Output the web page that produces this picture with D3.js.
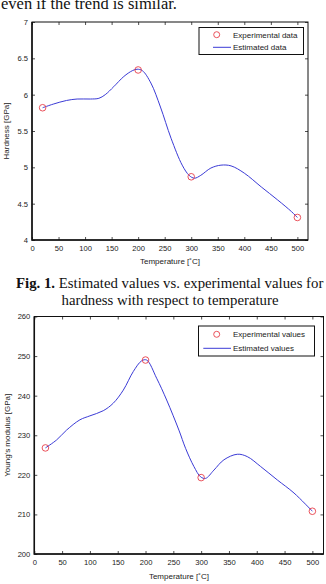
<!DOCTYPE html>
<html><head><meta charset="utf-8">
<script src="https://cdn.jsdelivr.net/npm/d3@7"></script>
<style>
body{margin:0;background:#fff;}
svg{display:block;}
.tk text{font-family:"Liberation Sans",Arial,sans-serif;font-size:7.6px;fill:#222;}
</style></head><body>
<svg id="c" width="326" height="584"></svg>
<script>
// ---- data ----
const xTicks = [0,50,100,150,200,250,300,350,400,450,500];
// Chart 1: hardness
const hardTicks = [4,4.5,5,5.5,6,6.5,7];
const hardExpT = [20,200,300,500];
const hardExpV = [5.82,6.34,4.87,4.31];
const hardEstT = [20,40,65,85,110,126,138,154,173,189,198,208,224,242,262,283,296,306,318,337,356,375,400,432,463,489,500];
const hardEstV = [5.82,5.87,5.92,5.94,5.94,5.95,6.0,6.11,6.25,6.33,6.35,6.33,6.16,5.83,5.40,5.03,4.89,4.85,4.89,4.99,5.03,5.02,4.92,4.73,4.55,4.39,4.31];
// Chart 2: Young's modulus
const ymTicks = [200,210,220,230,240,250,260];
const ymExpT = [20,200,300,500];
const ymExpV = [226.8,249.0,219.3,210.8];
const ymEstT = [20,40,58,82,100,124,142,160,178,193,202,220,238,260,272,287,299,308,323,341,365,383,407,437,467,500];
const ymEstV = [226.8,228.8,231.3,233.9,234.9,236.2,238.1,241.4,246.1,248.8,249.0,244.4,238.9,231.3,226.7,222.1,219.5,219.1,221.2,223.8,225.2,224.6,222.1,218.7,215.4,210.8];

const svg = d3.select("#c");
const sans = '"Liberation Sans",Arial,sans-serif';
const serif = '"Liberation Serif","Times New Roman",serif';

// surrounding text
svg.append("text").attr("x",1).attr("y",9).attr("font-family",serif).attr("font-size",16.5)
  .attr("fill","#111").text("even if the trend is similar.");
const cap = svg.append("text").attr("x",16).attr("y",288).attr("font-family",serif).attr("font-size",14.8).attr("fill","#111");
cap.append("tspan").attr("font-weight","bold").text("Fig. 1.");
cap.append("tspan").text(" Estimated values vs. experimental values for");
svg.append("text").attr("x",170).attr("y",305).attr("text-anchor","middle").attr("font-family",serif)
  .attr("font-size",14.8).attr("fill","#111").text("hardness with respect to temperature");

function chart(o){
  const x = d3.scaleLinear().domain([0,520]).range([o.x0,o.x1]);
  const y = d3.scaleLinear().domain([o.yTicks[0],o.yTicks[o.yTicks.length-1]]).range([o.y0,o.y1]);
  const g = svg.append("g");
  const tl = 3;
  // axes (ticks inward on all sides)
  g.append("g").attr("class","tk").attr("transform",`translate(0,${o.y0})`)
    .call(d3.axisBottom(x).tickValues(xTicks).tickSize(-tl).tickPadding(6).tickFormat(d3.format("d")));
  g.append("g").attr("transform",`translate(0,${o.y1})`)
    .call(d3.axisTop(x).tickValues(xTicks).tickSize(-tl).tickFormat(""));
  g.append("g").attr("class","tk").attr("transform",`translate(${o.x0},0)`)
    .call(d3.axisLeft(y).tickValues(o.yTicks).tickSize(-tl).tickPadding(4).tickFormat(d=>String(d)));
  g.append("g").attr("transform",`translate(${o.x1},0)`)
    .call(d3.axisRight(y).tickValues(o.yTicks).tickSize(-tl).tickFormat(""));
  g.selectAll(".domain").remove();
  g.selectAll(".tick line").attr("stroke","#222").attr("stroke-width",0.8);
  // frame
  g.append("rect").attr("x",o.x0).attr("y",o.y1).attr("width",o.x1-o.x0).attr("height",o.y0-o.y1)
    .attr("fill","none").attr("stroke","#111").attr("stroke-width",1);
  g.append("path").attr("d",`M${o.x0},${o.y1}V${o.y0}H${o.x1}`).attr("fill","none").attr("stroke","#111").attr("stroke-width",1.5);
  // labels
  g.append("text").attr("x",(o.x0+o.x1)/2).attr("y",o.xlabY).attr("text-anchor","middle")
    .attr("font-family",sans).attr("font-size",8).attr("fill","#222").text("Temperature [˚C]");
  g.append("text").attr("transform",`translate(${o.ylabX},${(o.y0+o.y1)/2}) rotate(-90)`).attr("text-anchor","middle")
    .attr("font-family",sans).attr("font-size",8).attr("fill","#222").text(o.ylab);
  // curve
  const est = o.estT.map((t,i)=>[t,o.estV[i]]);
  g.append("path").datum(est).attr("fill","none").attr("stroke","#3b3bd6").attr("stroke-width",1)
    .attr("d", d3.line().x(d=>x(d[0])).y(d=>y(d[1])).curve(d3.curveCatmullRom.alpha(0.5)));
  const exp = o.expT.map((t,i)=>[t,o.expV[i]]);
  g.selectAll(".pt").data(exp).enter().append("circle").attr("cx",d=>x(d[0])).attr("cy",d=>y(d[1]))
    .attr("r",3.3).attr("fill","none").attr("stroke","#e8404a").attr("stroke-width",0.9);
  // legend
  const L = o.leg;
  g.append("rect").attr("x",L.x).attr("y",L.y).attr("width",L.w).attr("height",L.h)
    .attr("fill","#fff").attr("stroke","#111").attr("stroke-width",1);
  g.append("circle").attr("cx",216.7).attr("cy",L.r1).attr("r",3).attr("fill","none").attr("stroke","#e8404a").attr("stroke-width",0.9);
  g.append("line").attr("x1",L.lx).attr("x2",231).attr("y1",L.r2).attr("y2",L.r2).attr("stroke","#3b3bd6").attr("stroke-width",1);
  g.append("text").attr("x",233).attr("y",L.r1+3).attr("font-family",sans).attr("font-size",8).attr("fill","#222").text(L.t1);
  g.append("text").attr("x",233).attr("y",L.r2+3).attr("font-family",sans).attr("font-size",8).attr("fill","#222").text(L.t2);
}

chart({x0:32,x1:308,y0:240,y1:22,yTicks:hardTicks,expT:hardExpT,expV:hardExpV,estT:hardEstT,estV:hardEstV,
  xlabY:264,ylabX:9,ylab:"Hardness [GPa]",
  leg:{x:199,y:27.5,w:104.5,h:27,r1:34.7,r2:47.3,lx:213,t1:"Experimental data",t2:"Estimated data"}});
chart({x0:34.3,x1:323.5,y0:554,y1:316.5,yTicks:ymTicks,expT:ymExpT,expV:ymExpV,estT:ymEstT,estV:ymEstV,
  xlabY:579,ylabX:10,ylab:"Young's modulus [GPa]",
  leg:{x:198.5,y:326,w:116,h:30,r1:334.3,r2:348.3,lx:203.3,t1:"Experimental values",t2:"Estimated values"}});
</script>
</body></html>
